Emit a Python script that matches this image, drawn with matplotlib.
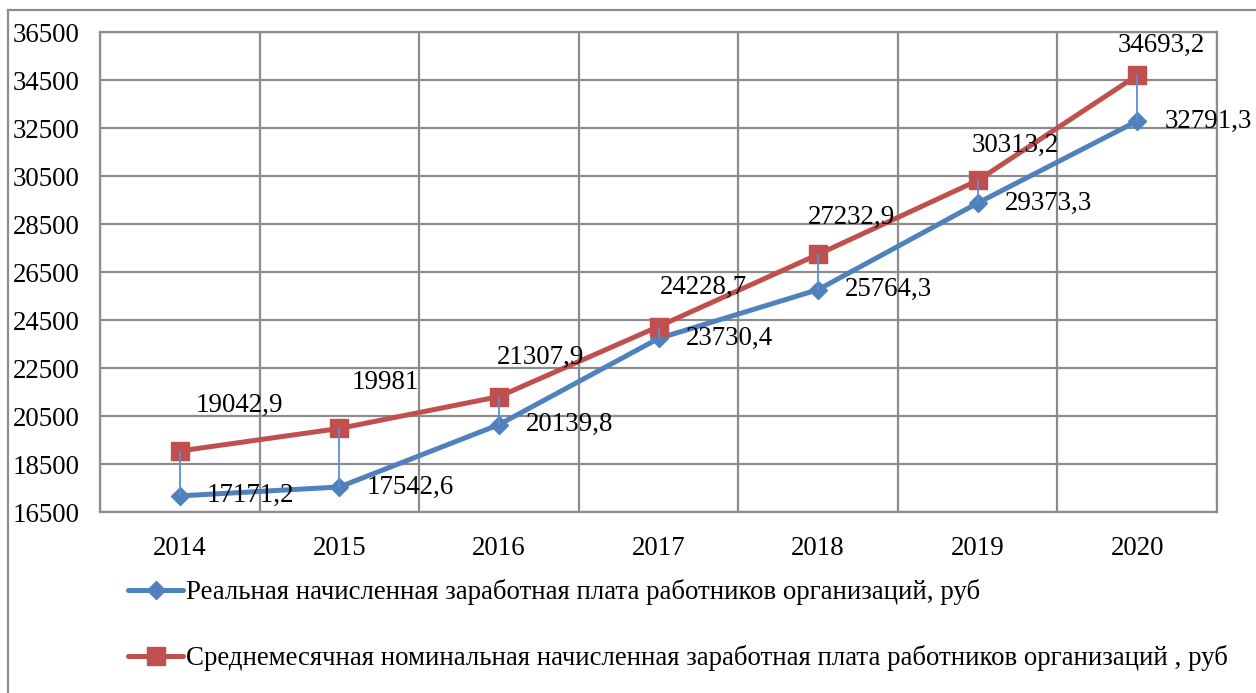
import matplotlib
matplotlib.use('Agg')
import matplotlib.pyplot as plt
from matplotlib.lines import Line2D
import numpy as np

plt.rcParams['font.family'] = ['Liberation Serif', 'DejaVu Serif']

# wages by year, rubles
years = ['2014', '2015', '2016', '2017', '2018', '2019', '2020']
real_wage = [17171.2, 17542.6, 20139.8, 23730.4, 25764.3, 29373.3, 32791.3]
nominal_wage = [19042.9, 19981, 21307.9, 24228.7, 27232.9, 30313.2, 34693.2]
y_ticks = [16500, 18500, 20500, 22500, 24500, 26500, 28500, 30500, 32500, 34500, 36500]

real_name = 'Реальная начисленная заработная плата работников организаций, руб'
nominal_name = 'Среднемесячная номинальная начисленная заработная плата работников организаций , руб'

BLUE = '#4F81BD'
RED = '#C0504D'
GRID = '#8C8C8C'
FS = 19.4

# label offsets for the nominal series, in pixels (dx, dy)
nominal_offsets = [(60, 46), (46, 46), (42, 39), (45, 39), (33, 37), (38, 35), (24, 30)]

W, H = 1256, 693
fig = plt.figure(figsize=(W / 100, H / 100), dpi=100)
ax = fig.add_axes([100 / W, 1 - 512 / H, (1217 - 100) / W, (512 - 32) / H])

x = np.arange(len(years))

ax.plot(x, real_wage, color=BLUE, lw=3.6, marker='D', ms=8.8,
        solid_capstyle='round', zorder=3, label=real_name)
ax.plot(x, nominal_wage, color=RED, lw=3.6, marker='s', ms=13,
        solid_capstyle='round', zorder=4, label=nominal_name)
ax.vlines(x, real_wage, nominal_wage, color='#5B8FD6', lw=1.3, zorder=5)

for i, v in enumerate(real_wage):
    ax.annotate(f'{v:g}'.replace('.', ','), (x[i], v), xytext=(27, 0),
                textcoords='offset pixels', ha='left', va='center', fontsize=FS, zorder=6)
for i, v in enumerate(nominal_wage):
    dx, dy = nominal_offsets[i]
    ax.annotate(f'{v:g}'.replace('.', ','), (x[i], v), xytext=(dx, dy),
                textcoords='offset pixels', ha='center', va='center', fontsize=FS, zorder=6)

ax.set_xlim(-0.5, len(years) - 0.5)
ax.set_ylim(16500, 36500)
ax.set_yticks(y_ticks)
ax.set_yticklabels([str(t) for t in y_ticks], fontsize=FS)
ax.set_xticks(x)
ax.set_xticklabels(years, fontsize=FS)
ax.set_xticks(np.arange(len(years) + 1) - 0.5, minor=True)
ax.tick_params(axis='both', which='both', length=0)
ax.tick_params(axis='y', pad=14.5)
ax.tick_params(axis='x', pad=17)

ax.grid(True, axis='y', which='major', color=GRID, lw=1.6)
ax.grid(True, axis='x', which='minor', color=GRID, lw=1.6)
ax.set_axisbelow(True)
for s in ax.spines.values():
    s.set_color(GRID)
    s.set_linewidth(1.6)

handles = [
    Line2D([], [], color=BLUE, lw=3.6, marker='D', ms=8.8, solid_capstyle='round'),
    Line2D([], [], color=RED, lw=3.6, marker='s', ms=13, solid_capstyle='round'),
]
fig.legend(handles, [real_name, nominal_name], loc='upper left',
           bbox_to_anchor=(128 / W, 1 - 579 / H), frameon=False, fontsize=FS,
           handlelength=2.05, handletextpad=0.1, labelspacing=1.5, borderpad=0,
           borderaxespad=0)

# outer chart frame (left and top edges)
fig.add_artist(Line2D([8 / W, 8 / W], [0, 1 - 10 / H], color=GRID, lw=1.6,
                      transform=fig.transFigure))
fig.add_artist(Line2D([8 / W, 1], [1 - 10 / H, 1 - 10 / H], color=GRID, lw=1.6,
                      transform=fig.transFigure))

fig.savefig('out.png', dpi=100)
